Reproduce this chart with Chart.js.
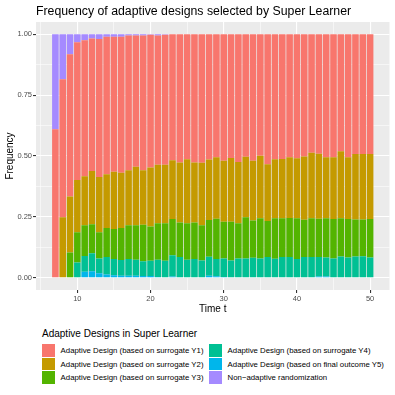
<!DOCTYPE html>
<html>
<head>
<meta charset="utf-8">
<script src="https://cdn.jsdelivr.net/npm/chart.js@4.4.1/dist/chart.umd.min.js"></script>
<style>
  body { margin: 0; background: #fff; font-family: "Liberation Sans", Arial, sans-serif; }
  #wrap { position: relative; width: 395px; height: 395px; overflow: hidden; }
  #freq_chart { position: absolute; left: 0; top: 0; }
  #title { position: absolute; left: 36px; top: 4px; font-size: 12.3px; color: #000; white-space: nowrap; }
  #legend { position: absolute; left: 42px; top: 327px; color: #000; }
  #legend .lt { font-size: 10px; height: 14px; line-height: 14px; margin-bottom: 3px; }
  #legend .grid { display: grid; grid-template-columns: 167px 180px; grid-auto-flow: column; grid-template-rows: repeat(3, 13.4px); }
  #legend .item { display: flex; align-items: center; font-size: 7.8px; white-space: nowrap; }
  #legend .key { width: 12.6px; height: 12.6px; margin-right: 6px; flex: none; }
</style>
</head>
<body>
<div id="wrap">
  <canvas id="freq_chart" width="395" height="320"></canvas>
  <div id="title">Frequency of adaptive designs selected by Super Learner</div>
  <div id="legend"></div>
</div>
<script>
const times = [7,8,9,10,11,12,13,14,15,16,17,18,19,20,21,22,23,24,25,26,27,28,29,30,31,32,33,34,35,36,37,38,39,40,41,42,43,44,45,46,47,48,49,50];

const designY1 = [.610,.566,.584,.566,.558,.544,.566,.564,.554,.558,.553,.539,.553,.545,.531,.534,.517,.527,.513,.527,.528,.514,.505,.520,.508,.525,.503,.520,.499,.534,.513,.512,.505,.509,.502,.487,.491,.505,.505,.480,.505,.492,.492,.492];
const designY2 = [0,.249,.230,.214,.201,.218,.227,.221,.235,.227,.226,.240,.224,.242,.240,.240,.242,.246,.263,.246,.256,.249,.253,.250,.262,.251,.248,.245,.256,.233,.242,.244,.249,.247,.260,.268,.267,.250,.254,.275,.254,.269,.269,.267];
const designY3 = [0,0,.104,.124,.126,.119,.108,.119,.123,.131,.139,.142,.150,.141,.150,.154,.148,.142,.150,.150,.145,.151,.165,.151,.159,.145,.170,.153,.166,.148,.167,.159,.161,.167,.153,.160,.157,.162,.162,.157,.158,.151,.150,.158];
const designY4 = [0,0,0,.063,.065,.074,.060,.071,.066,.065,.069,.066,.061,.063,.071,.068,.088,.083,.072,.075,.069,.078,.071,.076,.069,.077,.077,.080,.077,.083,.076,.083,.083,.075,.083,.083,.080,.078,.077,.086,.081,.086,.087,.081];
const designY5 = [0,0,0,0,.025,.027,.019,.014,.011,.008,.008,.008,.007,.007,.003,.002,.005,.002,.002,.002,.002,.008,.006,.003,.002,.002,.002,.002,.002,.002,.002,.002,.002,.002,.002,.002,.005,.005,.002,.002,.002,.002,.002,.002];
const nonAdaptive = [.390,.185,.082,.033,.025,.018,.020,.011,.011,.011,.005,.005,.005,.002,.005,.002,0,0,0,0,0,0,0,0,0,0,0,0,0,0,0,0,0,0,0,0,0,0,0,0,0,0,0,0];

const xTicks = [5,10,15,20,25,30,35,40,45,50];
const yTicks = [0,0.125,0.25,0.375,0.5,0.625,0.75,0.875,1];

// legend order (as in the reference), stacking goes the other way round
const series = [
  { label: 'Adaptive Design (based on surrogate Y1)', data: designY1, color: '#F8766D' },
  { label: 'Adaptive Design (based on surrogate Y2)', data: designY2, color: '#C49A00' },
  { label: 'Adaptive Design (based on surrogate Y3)', data: designY3, color: '#53B400' },
  { label: 'Adaptive Design (based on surrogate Y4)', data: designY4, color: '#00C094' },
  { label: 'Adaptive Design (based on final outcome Y5)', data: designY5, color: '#00B6EB' },
  { label: 'Non\u2212adaptive randomization', data: nonAdaptive, color: '#A58AFF' }
];
const stackOrder = [4, 3, 2, 1, 0, 5];

const panelBg = {
  id: 'panelBg',
  beforeDraw(chart) {
    const a = chart.chartArea;
    chart.ctx.save();
    chart.ctx.fillStyle = '#EBEBEB';
    chart.ctx.fillRect(a.left, a.top, a.right - a.left, a.bottom - a.top);
    chart.ctx.restore();
  }
};

function buildLegend() {
  const box = document.getElementById('legend');
  let html = '<div class="lt">Adaptive Designs in Super Learner</div><div class="grid">';
  series.forEach(s => {
    html += '<div class="item"><span class="key" style="background:' + s.color + '"></span>' + s.label + '</div>';
  });
  box.innerHTML = html + '</div>';
}

function createChart() {
  new Chart(document.getElementById('freq_chart'), {
    type: 'bar',
    data: {
      labels: times,
      datasets: stackOrder.map(i => ({
        label: series[i].label,
        data: series[i].data,
        backgroundColor: series[i].color,
        borderWidth: 0,
        barPercentage: 0.9,
        categoryPercentage: 1
      }))
    },
    options: {
      responsive: false,
      animation: false,
      layout: { padding: { top: 22, right: 5.5, left: 0, bottom: 0 } },
      plugins: { legend: { display: false }, tooltip: { enabled: false }, title: { display: false } },
      scales: {
        x: {
          type: 'linear',
          stacked: true,
          offset: false,
          min: 4.35,
          max: 52.65,
          afterBuildTicks: s => { s.ticks = xTicks.map(v => ({ value: v })); },
          afterFit: s => { s.height = 30; },
          border: { display: false },
          grid: {
            offset: false,
            color: '#FFFFFF',
            lineWidth: c => (c.tick && c.tick.value % 10 === 0 ? 1.1 : 0.55),
            tickColor: c => (c.tick && c.tick.value % 10 === 0 ? '#333333' : 'rgba(0,0,0,0)'),
            tickLength: 3
          },
          ticks: {
            autoSkip: false,
            maxRotation: 0,
            padding: 1,
            color: '#4D4D4D',
            font: { family: 'Liberation Sans', size: 7.5 },
            callback: v => (v % 10 === 0 ? String(v) : '')
          },
          title: {
            display: true,
            text: 'Time t',
            color: '#000',
            font: { family: 'Liberation Sans', size: 10 },
            padding: { top: 0, bottom: 5 }
          }
        },
        y: {
          stacked: true,
          min: -0.05,
          max: 1.05,
          afterBuildTicks: s => { s.ticks = yTicks.map(v => ({ value: v })); },
          afterFit: s => { s.width = 36; },
          border: { display: false },
          grid: {
            color: '#FFFFFF',
            lineWidth: c => (c.tick && c.tick.value % 0.25 === 0 ? 1.1 : 0.55),
            tickColor: c => (c.tick && c.tick.value % 0.25 === 0 ? '#333333' : 'rgba(0,0,0,0)'),
            tickLength: 3
          },
          ticks: {
            autoSkip: false,
            padding: 1,
            color: '#4D4D4D',
            font: { family: 'Liberation Sans', size: 7.5 },
            callback: v => (v % 0.25 === 0 ? v.toFixed(2) : '')
          },
          title: {
            display: true,
            text: 'Frequency',
            color: '#000',
            font: { family: 'Liberation Sans', size: 10 },
            padding: { top: 4, bottom: 0 }
          }
        }
      }
    },
    plugins: [panelBg]
  });
}

buildLegend();
createChart();
</script>
</body>
</html>
